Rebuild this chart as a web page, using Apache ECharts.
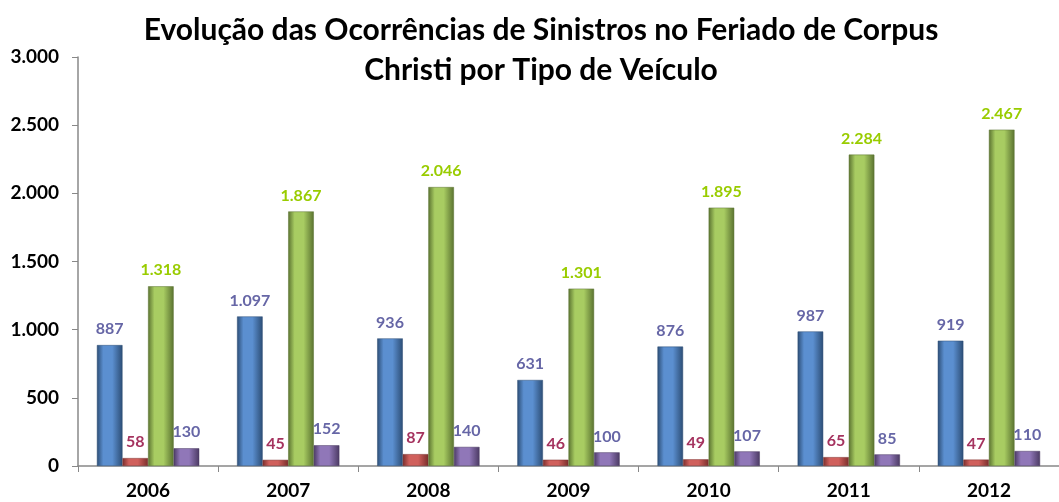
<!DOCTYPE html>
<html>
<head>
<meta charset="utf-8">
<script src="https://cdn.jsdelivr.net/npm/echarts@6/dist/echarts.min.js"></script>
<style>
  html, body { margin: 0; padding: 0; background: #fff; }
  #chart { width: 1059px; height: 502px; }
</style>
</head>
<body>
<div id="chart"></div>
<script>
var anos = ['2006', '2007', '2008', '2009', '2010', '2011', '2012'];
var serieAzul = [887, 1097, 936, 631, 876, 987, 919];
var serieVermelha = [58, 45, 87, 46, 49, 65, 47];
var serieVerde = [1318, 1867, 2046, 1301, 1895, 2284, 2467];
var serieRoxa = [130, 152, 140, 100, 107, 85, 110];

var fonte = 'Lato, "Open Sans", sans-serif';

// degradê horizontal para imitar o bisel das barras
function bisel(escuro, claro) {
  return new echarts.graphic.LinearGradient(0, 0, 1, 0, [
    { offset: 0, color: escuro },
    { offset: 0.25, color: claro },
    { offset: 0.6, color: claro },
    { offset: 1, color: escuro }
  ]);
}

function fmt(v) {
  return String(v).replace(/\B(?=(\d{3})+(?!\d))/g, '.');
}

function serie(nome, dados, escuro, claro, corRotulo) {
  return {
    name: nome,
    type: 'bar',
    data: dados,
    barGap: '0%',
    barCategoryGap: '27%',
    itemStyle: { color: bisel(escuro, claro), borderColor: escuro, borderWidth: 0.5 },
    label: {
      show: true,
      position: 'top',
      distance: 8,
      color: corRotulo,
      fontFamily: fonte,
      fontWeight: 'bold',
      fontSize: 16,
      formatter: function (p) { return fmt(p.value); }
    }
  };
}

var chart = echarts.init(document.getElementById('chart'));
chart.setOption({
  animation: false,
  title: {
    text: 'Evolução das Ocorrências de Sinistros no Feriado de Corpus\nChristi por Tipo de Veículo',
    left: 536,
    top: 5,
    textAlign: 'center',
    textStyle: { fontFamily: fonte, fontWeight: 'bold', fontSize: 30, lineHeight: 40, color: '#000' }
  },
  grid: { left: 78, right: -9, top: 57, bottom: 36 },
  xAxis: {
    type: 'category',
    data: anos,
    axisLine: { lineStyle: { color: '#888', width: 1.5 } },
    axisTick: { show: true, length: 6, lineStyle: { color: '#888' } },
    axisLabel: { color: '#000', fontFamily: fonte, fontWeight: 'bold', fontSize: 19, margin: 15 }
  },
  yAxis: {
    type: 'value',
    min: 0,
    max: 3000,
    interval: 500,
    splitLine: { show: false },
    axisLine: { show: true, lineStyle: { color: '#888', width: 1.5 } },
    axisTick: { show: true, length: 6, lineStyle: { color: '#888' } },
    axisLabel: {
      color: '#000', fontFamily: fonte, fontWeight: 'bold', fontSize: 19, margin: 19,
      formatter: function (v) { return fmt(v); }
    }
  },
  series: [
    serie('Azul', serieAzul, '#2c4d75', '#5b8fd0', '#6666a6'),
    serie('Vermelha', serieVermelha, '#7a2e2c', '#d0605c', '#a5335f'),
    serie('Verde', serieVerde, '#5a7230', '#a8cc62', '#99cc00'),
    serie('Roxa', serieRoxa, '#4b3a63', '#9077b8', '#6666a6')
  ]
});
</script>
</body>
</html>
